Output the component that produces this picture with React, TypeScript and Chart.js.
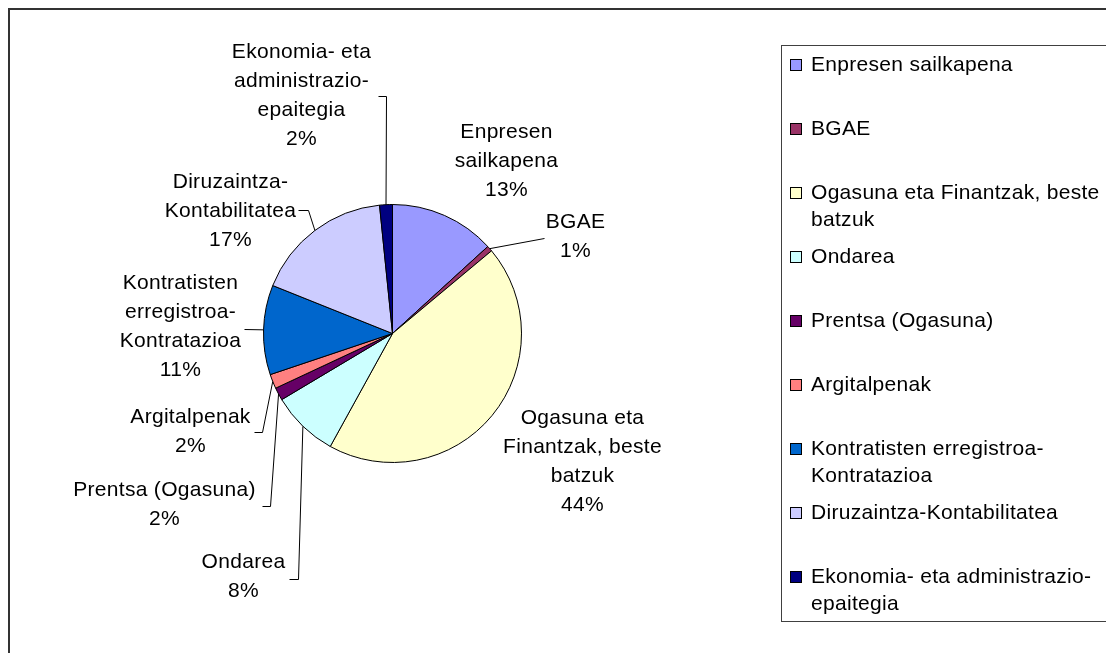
import React, { useEffect, useRef } from "react";
import { Chart, registerables } from "chart.js";

Chart.register(...registerables);

// ---------- data ----------
const categories = [
  "Enpresen sailkapena",
  "BGAE",
  "Ogasuna eta Finantzak, beste batzuk",
  "Ondarea",
  "Prentsa (Ogasuna)",
  "Argitalpenak",
  "Kontratisten erregistroa-Kontratazioa",
  "Diruzaintza-Kontabilitatea",
  "Ekonomia- eta administrazio-epaitegia",
];
const shares = [13.2, 0.7, 44.0, 8.4, 1.6, 1.8, 11.2, 17.3, 1.6];
const sliceColors = [
  "#9999FF",
  "#993366",
  "#FFFFCC",
  "#CCFFFF",
  "#660066",
  "#FF8080",
  "#0066CC",
  "#CCCCFF",
  "#000080",
];
// wrapped text as shown next to the slices
const pieLabelLines = [
  ["Enpresen", "sailkapena"],
  ["BGAE"],
  ["Ogasuna eta", "Finantzak, beste", "batzuk"],
  ["Ondarea"],
  ["Prentsa (Ogasuna)"],
  ["Argitalpenak"],
  ["Kontratisten", "erregistroa-", "Kontratazioa"],
  ["Diruzaintza-", "Kontabilitatea"],
  ["Ekonomia- eta", "administrazio-", "epaitegia"],
];
// wrapped text as shown in the legend
const legendLines = [
  ["Enpresen sailkapena"],
  ["BGAE"],
  ["Ogasuna eta Finantzak, beste", "batzuk"],
  ["Ondarea"],
  ["Prentsa (Ogasuna)"],
  ["Argitalpenak"],
  ["Kontratisten erregistroa-", "Kontratazioa"],
  ["Diruzaintza-Kontabilitatea"],
  ["Ekonomia- eta administrazio-", "epaitegia"],
];

// ---------- layout (offsets from pie centre, px) ----------
const labelLayout: { dx: number; dy: number; leader: number[][] }[] = [
  { dx: 114, dy: -201, leader: [] },
  { dx: 183, dy: -111, leader: [[151, -96]] },
  { dx: 190, dy: 85, leader: [] },
  { dx: -149, dy: 229, leader: [[-104, 245], [-95, 245]] },
  { dx: -228, dy: 157, leader: [[-131, 172], [-123, 172]] },
  { dx: -202, dy: 84, leader: [[-139, 98], [-131, 98]] },
  { dx: -212, dy: -50, leader: [[-149, -5]] },
  { dx: -162, dy: -151, leader: [[-95, -124], [-85, -124]] },
  { dx: -91, dy: -281, leader: [[-15, -238], [-7, -238]] },
];

const W = 1106;
const H = 645;
const FONT = '21px "Liberation Sans", Arial, sans-serif';
const LINE_H = 29;
const SPACING = "0.3px";

const decorPlugin = {
  id: "decor",
  beforeDraw(chart: any) {
    const ctx = chart.ctx;
    ctx.save();
    ctx.fillStyle = "#ffffff";
    ctx.fillRect(0, 0, W, H);
    ctx.fillStyle = "#333333";
    ctx.fillRect(0, 0, 2, H);
    ctx.fillRect(0, 0, W, 2);
    ctx.restore();
  },
  afterDatasetsDraw(chart: any) {
    const ctx = chart.ctx;
    const meta = chart.getDatasetMeta(0);
    const vals: number[] = chart.data.datasets[0].data;
    const total = vals.reduce((a, b) => a + b, 0);
    ctx.save();
    ctx.font = FONT;
    ctx.fillStyle = "#000";
    ctx.strokeStyle = "#000";
    ctx.lineWidth = 1;
    ctx.textAlign = "center";
    ctx.textBaseline = "middle";
    (ctx as any).letterSpacing = SPACING;
    meta.data.forEach((arc: any, i: number) => {
      const p = arc.getProps(["x", "y", "startAngle", "endAngle", "outerRadius"], true);
      const mid = (p.startAngle + p.endAngle) / 2;
      const ax = p.x + Math.cos(mid) * p.outerRadius;
      const ay = p.y + Math.sin(mid) * p.outerRadius;
      const lay = labelLayout[i];
      if (lay.leader.length) {
        ctx.beginPath();
        lay.leader.forEach((pt, k) => {
          const px = Math.round(p.x + pt[0]) + 0.5;
          const py = Math.round(p.y + pt[1]) + 0.5;
          if (k === 0) ctx.moveTo(px, py);
          else ctx.lineTo(px, py);
        });
        ctx.lineTo(ax, ay);
        ctx.stroke();
      }
      const pct = Math.round((vals[i] / total) * 100) + "%";
      const lines = [...pieLabelLines[i], pct];
      lines.forEach((t, k) => {
        ctx.fillText(t, p.x + lay.dx, p.y + lay.dy + k * LINE_H);
      });
    });
    ctx.restore();
  },
  afterDraw(chart: any) {
    const ctx = chart.ctx;
    const colors: string[] = chart.data.datasets[0].backgroundColor;
    // legend box
    const bx = 773, by = 37, bw = 331, bh = 576;
    ctx.save();
    ctx.strokeStyle = "#404040";
    ctx.lineWidth = 1;
    ctx.strokeRect(bx + 0.5, by + 0.5, bw, bh);
    ctx.font = FONT;
    ctx.textAlign = "left";
    ctx.textBaseline = "middle";
    (ctx as any).letterSpacing = SPACING;
    chart.data.labels.forEach((_: string, i: number) => {
      const y0 = by + 20 + i * 64;
      ctx.fillStyle = colors[i];
      ctx.fillRect(bx + 9, Math.round(y0 - 6), 12, 12);
      ctx.strokeStyle = "#000";
      ctx.strokeRect(bx + 9.5, Math.round(y0 - 6) + 0.5, 11, 11);
      ctx.fillStyle = "#000";
      legendLines[i].forEach((t, k) => {
        ctx.fillText(t, bx + 30, y0 + k * 27);
      });
    });
    ctx.restore();
  },
};

export default function App() {
  const ref = useRef<HTMLCanvasElement | null>(null);
  useEffect(() => {
    if (!ref.current) return;
    const chart = new Chart(ref.current, {
      type: "pie",
      data: {
        labels: categories,
        datasets: [
          {
            data: shares,
            backgroundColor: sliceColors,
            borderColor: "#000000",
            borderWidth: 1,
          },
        ],
      },
      options: {
        responsive: false,
        animation: false,
        events: [],
        layout: { padding: { left: 255, right: 592, top: 196, bottom: 190 } },
        plugins: {
          legend: { display: false },
          tooltip: { enabled: false },
          title: { display: false },
        },
      },
      plugins: [decorPlugin],
    });
    return () => chart.destroy();
  }, []);
  return (
    <div style={{ width: W, height: H }}>
      <canvas ref={ref} width={W} height={H} style={{ display: "block", width: W, height: H }} />
    </div>
  );
}
